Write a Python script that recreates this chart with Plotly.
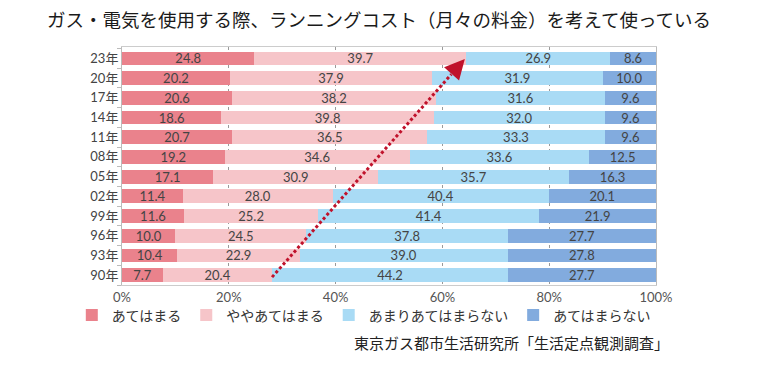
import plotly.graph_objects as go

# Data (top row first as shown in the reference)
years = ["23年", "20年", "17年", "14年", "11年", "08年", "05年", "02年", "99年", "96年", "93年", "90年"]
series_names = ["あてはまる", "ややあてはまる", "あまりあてはまらない", "あてはまらない"]
atehamaru = [24.8, 20.2, 20.6, 18.6, 20.7, 19.2, 17.1, 11.4, 11.6, 10.0, 10.4, 7.7]
yaya = [39.7, 37.9, 38.2, 39.8, 36.5, 34.6, 30.9, 28.0, 25.2, 24.5, 22.9, 20.4]
amari = [26.9, 31.9, 31.6, 32.0, 33.3, 33.6, 35.7, 40.4, 41.4, 37.8, 39.0, 44.2]
atehamaranai = [8.6, 10.0, 9.6, 9.6, 9.6, 12.5, 16.3, 20.1, 21.9, 27.7, 27.8, 27.7]
x_ticks = [0, 20, 40, 60, 80, 100]
x_tick_labels = ["0%", "20%", "40%", "60%", "80%", "100%"]

title_text = "ガス・電気を使用する際、ランニングコスト（月々の料金）を考えて使っている"
source_text = "東京ガス都市生活研究所「生活定点観測調査」"

colors = ["#EA828C", "#F6C5C9", "#A9DBF5", "#82ABDE"]
FONT = "Noto Sans CJK JP"
NUMFONT = "Lato, Noto Sans CJK JP"

fig = go.Figure()
for name, vals, col in zip(series_names, [atehamaru, yaya, amari, atehamaranai], colors):
    fig.add_trace(go.Bar(
        y=years, x=vals, name=name, orientation="h",
        marker=dict(color=col, line=dict(width=0)),
        text=[f"{v:.1f}" for v in vals], textposition="inside",
        insidetextanchor="middle", textangle=0,
        textfont=dict(family=NUMFONT, size=13, color="#444444"),
        width=0.7, hoverinfo="skip",
    ))

# arrow: from the end of the 2nd segment of the oldest year to that of the newest
order_bottom_up = years[::-1]
i_old = years.index("90年")
i_new = years.index("23年")
x_start = atehamaru[i_old] + yaya[i_old]
x_end = atehamaru[i_new] + yaya[i_new]
y_start = order_bottom_up.index("90年") - 0.1
y_end = order_bottom_up.index("23年") - 0.03
x_end_tip = x_end - 0.3
frac = 0.93
x_mid = x_start + (x_end_tip - x_start) * frac
y_mid = y_start + (y_end - y_start) * frac

fig.add_shape(type="line", xref="x", yref="y",
              x0=x_start, y0=y_start, x1=x_mid, y1=y_mid,
              line=dict(color="#C0122B", width=3, dash="3px,2.5px"))
fig.add_annotation(x=x_end_tip, y=y_end, ax=x_mid, ay=y_mid,
                   xref="x", yref="y", axref="x", ayref="y",
                   showarrow=True, arrowhead=2, arrowsize=1.6, arrowwidth=2.5,
                   arrowcolor="#C0122B", text="")

fig.add_annotation(text=source_text, xref="paper", yref="paper",
                   x=1.028, y=-0.24, xanchor="right", yanchor="middle",
                   showarrow=False, font=dict(family=FONT, size=15, color="#222222"))

fig.update_layout(
    width=758, height=372,
    margin=dict(l=122, r=102, t=47, b=87),
    paper_bgcolor="white", plot_bgcolor="white",
    barmode="stack", barnorm="percent",
    uniformtext=dict(minsize=13, mode="show"),
    font=dict(family=FONT, color="#444444"),
    title=dict(text=title_text, x=0.5, xref="container", xanchor="center",
               y=0.945, yref="container", yanchor="middle",
               font=dict(family=FONT, size=18.5, color="#1a1a1a")),
    showlegend=True,
    legend=dict(orientation="h", x=-0.094, xanchor="left", y=-0.128, yanchor="middle",
                traceorder="normal", font=dict(family=FONT, size=14, color="#333333"),
                itemclick=False, itemdoubleclick=False, bgcolor="rgba(0,0,0,0)"),
    bargap=0.3,
)
fig.update_xaxes(range=[0, 100], tickmode="array", tickvals=x_ticks, ticktext=x_tick_labels,
                 showgrid=True, gridcolor="#9a9a9a", griddash="dot", gridwidth=1,
                 showline=True, linecolor="#cccccc", linewidth=1, mirror=True,
                 zeroline=False, ticks="",
                 tickfont=dict(family=NUMFONT, size=13, color="#555555"))
fig.update_yaxes(type="category", categoryorder="array", categoryarray=order_bottom_up,
                 showline=True, linecolor="#bbbbbb", linewidth=1, mirror=True,
                 ticks="outside", tickson="boundaries", ticklen=4, tickcolor="#bbbbbb",
                 showgrid=False, tickfont=dict(family=NUMFONT, size=13, color="#444444"))

fig.write_html("out.html", config={"displayModeBar": False},
               post_script="document.body.style.margin='0';document.body.style.overflow='hidden';")
